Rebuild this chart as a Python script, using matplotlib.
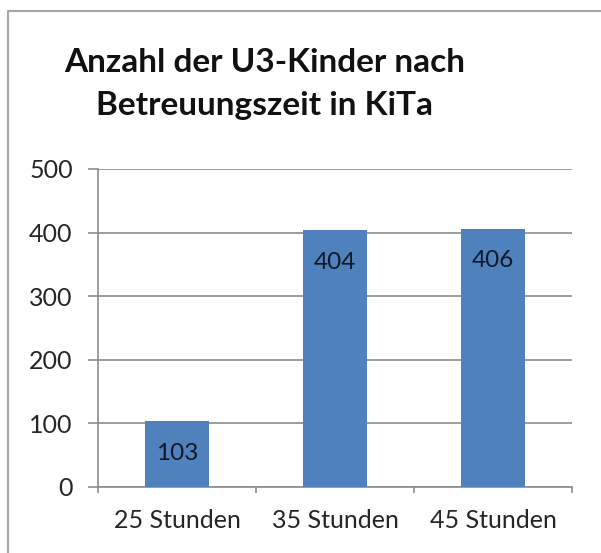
import matplotlib
matplotlib.use("Agg")
import matplotlib.pyplot as plt
from matplotlib.lines import Line2D
import numpy as np

categories = ["25 Stunden", "35 Stunden", "45 Stunden"]
values = [103, 404, 406]
yticks = [0, 100, 200, 300, 400, 500]
title = "Anzahl der U3-Kinder nach\nBetreuungszeit in KiTa"

plt.rcParams['font.family'] = ['Lato', 'DejaVu Sans']

fig = plt.figure(figsize=(6.01, 5.53), dpi=100)
fig.patch.set_facecolor("white")

# chart frame (only top and left edges are inside the picture)
fx, fy = 7.5 / 601, (553 - 10.5) / 553
fig.lines.append(Line2D([fx, fx, 1.0], [0.0, fy, fy], transform=fig.transFigure,
                        color="#a6a6a6", linewidth=1.5))

ax = fig.add_axes([98 / 601, (553 - 487) / 553, 474 / 601, 318 / 553])
x = np.arange(len(categories))
bars = ax.bar(x, values, width=0.405, color="#4f81bd", zorder=3)

for b, v in zip(bars, values):
    ax.annotate(str(v), (b.get_x() + b.get_width() / 2, v),
                xytext=(0, -32), textcoords="offset pixels",
                ha="center", va="center", fontsize=17.5, color="#101828", zorder=4)

ax.set_xlim(-0.5, len(categories) - 0.5)
ax.set_ylim(0, 500)
ax.set_yticks(yticks)
ax.set_yticklabels([str(t) for t in yticks], fontsize=18, color="#262626")
ax.yaxis.grid(True, color="#8c8c8c", linewidth=1.2, zorder=0)

ax.set_xticks(x)
ax.set_xticklabels(categories, fontsize=18, color="#262626")
ax.tick_params(axis="x", which="major", length=0, pad=16)
ax.set_xticks(np.arange(len(categories) + 1) - 0.5, minor=True)
ax.tick_params(axis="x", which="minor", length=4.5, color="#8c8c8c", width=1.2)
ax.tick_params(axis="y", length=7.2, color="#8c8c8c", width=1.2, pad=11)

for s in ["top", "right"]:
    ax.spines[s].set_visible(False)
for s in ["left", "bottom"]:
    ax.spines[s].set_color("#8c8c8c")
    ax.spines[s].set_linewidth(1.2)

fig.text(265 / 601, (553 - 84) / 553, title, ha="center", va="center",
         fontsize=24, fontweight="bold", color="#111111", linespacing=1.6)

fig.savefig("out.png", dpi=100)
